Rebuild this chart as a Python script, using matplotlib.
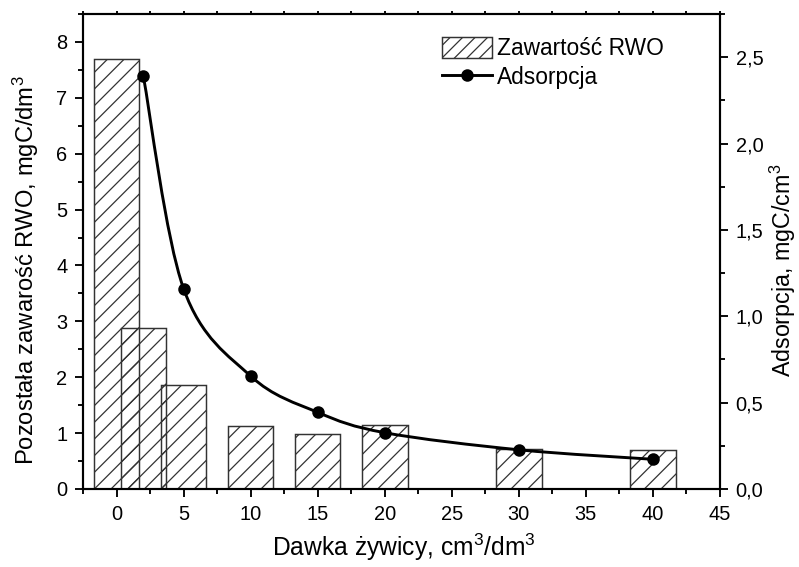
import numpy as np
import matplotlib
matplotlib.use('Agg')
import matplotlib.pyplot as plt
from matplotlib.path import Path
from matplotlib.patches import PathPatch, Patch
from matplotlib.lines import Line2D
from matplotlib.ticker import MultipleLocator, FuncFormatter

# ================= data =================
bar_x = [0, 2, 5, 10, 15, 20, 30, 40]
bar_rwo = [7.69, 2.89, 1.86, 1.13, 0.99, 1.145, 0.72, 0.69]

ads_x = [2, 5, 10, 15, 20, 30, 40]
ads_y = [2.39, 1.16, 0.654, 0.444, 0.326, 0.227, 0.172]

xlabel = 'Dawka żywicy, cm$^3$/dm$^3$'
ylabel_left = 'Pozostała zawarość RWO, mgC/dm$^3$'
ylabel_right = 'Adsorpcja, mgC/cm$^3$'
leg_labels = ['Zawartość RWO', 'Adsorpcja']

plt.rcParams['font.family'] = ['Liberation Sans', 'DejaVu Sans']
plt.rcParams['mathtext.default'] = 'regular'
plt.rcParams['hatch.linewidth'] = 0.6


def spline_path(x, y):
    """Catmull-Rom curve through the points, as bezier segments."""
    p = np.column_stack([x, y]).astype(float)
    ext = np.vstack([p[0], p, p[-1]])
    verts = [p[0]]
    codes = [Path.MOVETO]
    for i in range(len(p) - 1):
        p0, p1, p2, p3 = ext[i], ext[i+1], ext[i+2], ext[i+3]
        verts += [p1 + (p2 - p0)/6, p2 - (p3 - p1)/6, p2]
        codes += [Path.CURVE4]*3
    return Path(verts, codes)


dpi = 150
fig = plt.figure(figsize=(799/dpi, 567/dpi), dpi=dpi)
W, H = 799, 567
ax = fig.add_axes([83/W, 1 - 489/H, (720 - 83)/W, (489 - 14)/H])

ax.bar(bar_x, bar_rwo, width=3.4, facecolor='none', edgecolor='#333333',
       linewidth=0.7, hatch='///', zorder=2)

ax.set_xlim(-2.5, 45)
ax.set_ylim(0, 8.5)
ax.xaxis.set_major_locator(MultipleLocator(5))
ax.xaxis.set_minor_locator(MultipleLocator(2.5))
ax.yaxis.set_major_locator(MultipleLocator(1))
ax.yaxis.set_minor_locator(MultipleLocator(0.5))
ax.tick_params(which='both', direction='out', width=0.9, labelsize=9.6,
               top=True, right=False)
ax.tick_params(which='major', length=4)
ax.tick_params(which='minor', length=2.6)
ax.tick_params(axis='x', which='both', top=True, labeltop=False)
# tiny marks on the top spine
for t in ax.xaxis.get_major_ticks() + ax.xaxis.get_minor_ticks():
    t.tick2line.set_markersize(1.5)
for s in ax.spines.values():
    s.set_linewidth(1.0)

ax2 = ax.twinx()
ax2.set_ylim(0, 2.75)
ax2.yaxis.set_major_locator(MultipleLocator(0.5))
ax2.yaxis.set_minor_locator(MultipleLocator(0.25))
ax2.yaxis.set_major_formatter(FuncFormatter(
    lambda v, pos: '{:.1f}'.format(v).replace('.', ',')))
ax2.tick_params(which='both', direction='out', width=0.9, labelsize=9.6)
ax2.tick_params(which='major', length=4)
ax2.tick_params(which='minor', length=2.6)
for s in ax2.spines.values():
    s.set_linewidth(1.0)

ax2.add_patch(PathPatch(spline_path(ads_x, ads_y), facecolor='none',
                        edgecolor='black', linewidth=1.4, zorder=3))
ax2.plot(ads_x, ads_y, linestyle='none', marker='o', color='black',
         markersize=5, zorder=4)

ax.set_xlabel(xlabel, fontsize=11.8)
ax.xaxis.set_label_coords(0.504, -0.09)
ax.set_ylabel(ylabel_left, fontsize=11.4)
ax.yaxis.set_label_coords(-0.066, 0.461)
ax2.set_ylabel(ylabel_right, fontsize=11.2)
ax2.yaxis.set_label_coords(1.075, 0.461)

handles = [Patch(facecolor='none', edgecolor='#333333', hatch='////',
                 linewidth=0.7),
           Line2D([], [], color='black', linewidth=1.4, marker='o',
                  markersize=5)]
fig.legend(handles, leg_labels, loc='upper left',
           bbox_to_anchor=(441.7/W, 1 - 36.7/H), frameon=False,
           fontsize=10.9, borderpad=0, borderaxespad=0, handlelength=2.2,
           handleheight=1.05, handletextpad=0.25, labelspacing=0.25)

fig.savefig('out.png', dpi=dpi)
